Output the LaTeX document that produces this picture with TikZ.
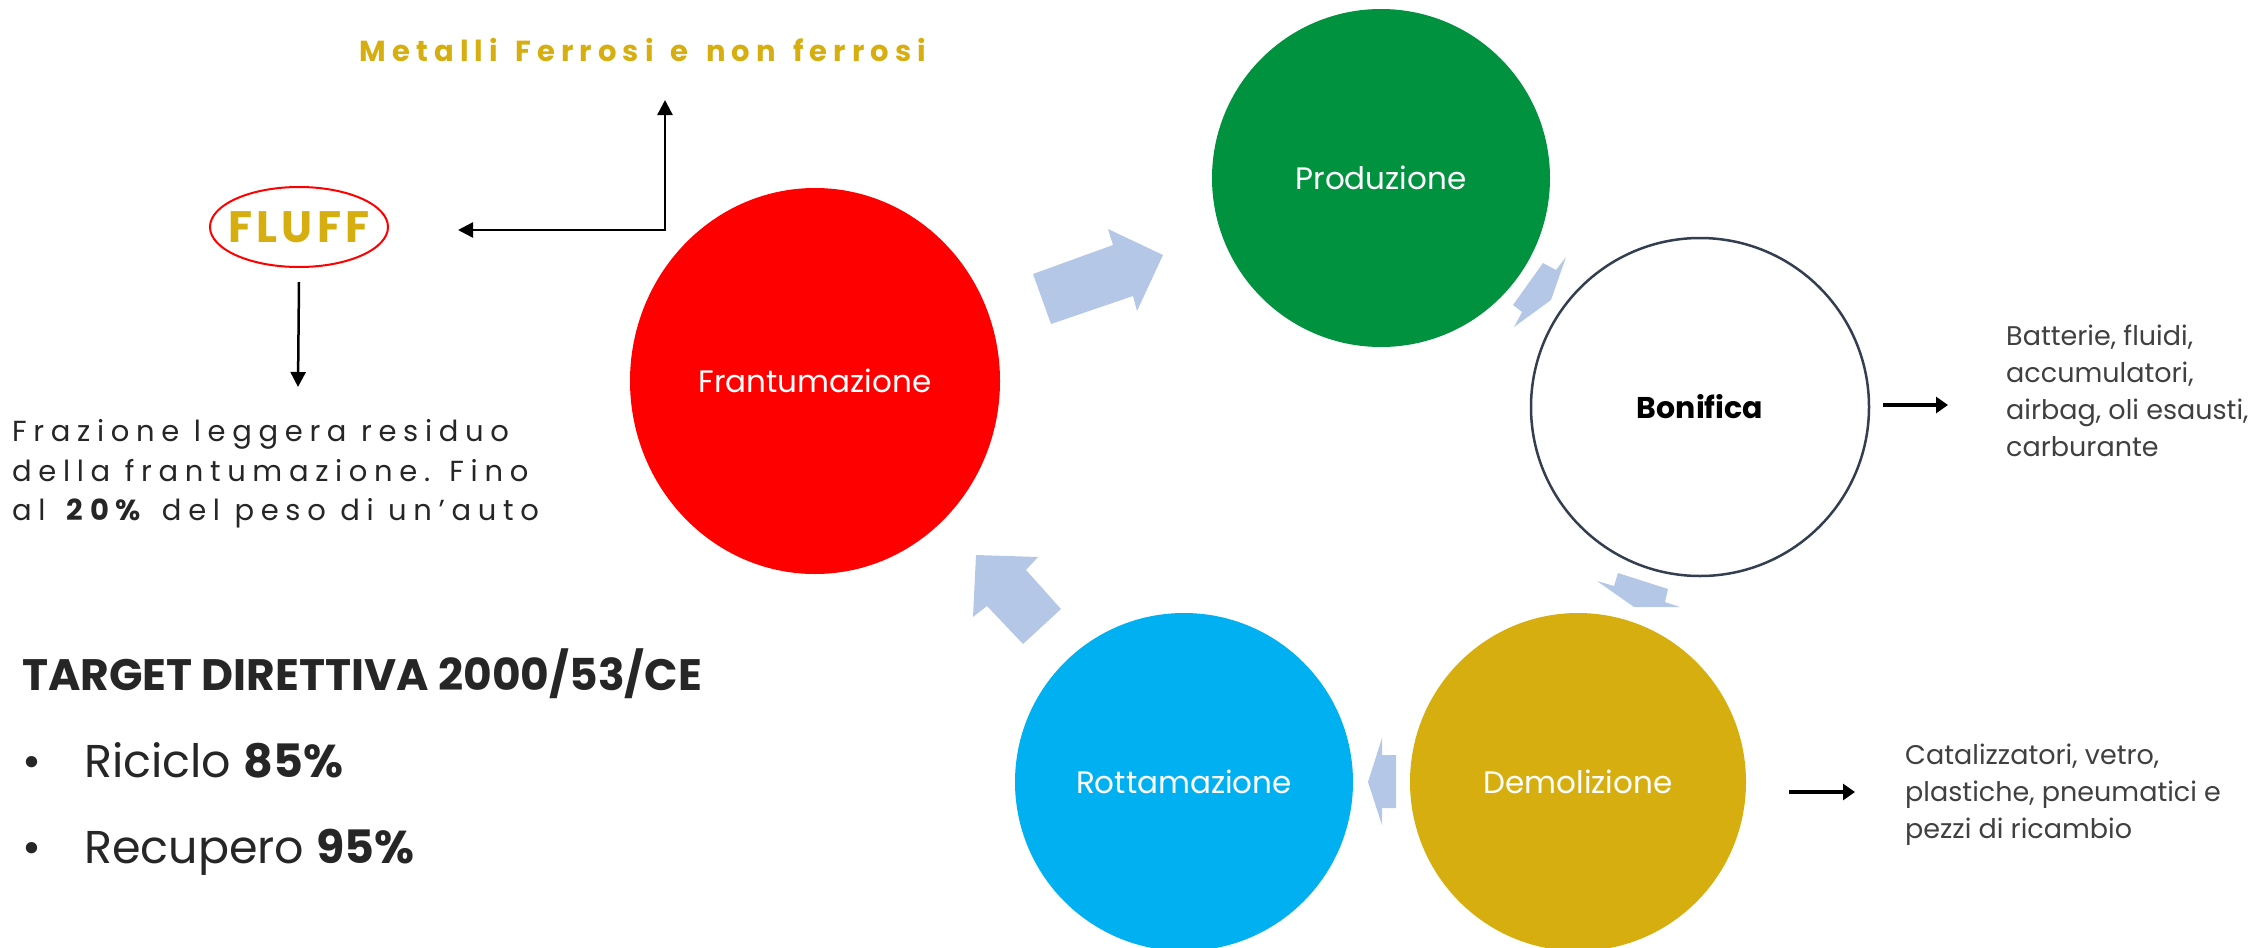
\documentclass[tikz,border=0pt]{standalone}
\usepackage{fontspec}
\setmainfont{Poppins}
\usetikzlibrary{shapes.geometric,arrows.meta}
\definecolor{cred}{HTML}{FF0000}
\definecolor{cgreen}{HTML}{00923F}
\definecolor{cblue}{HTML}{00B0F0}
\definecolor{cgold}{HTML}{D6AE10}
\definecolor{cnavy}{HTML}{333F50}
\definecolor{carrow}{HTML}{B4C7E7}
\definecolor{ctext}{HTML}{262626}
\definecolor{cgray}{HTML}{404040}
\newcommand\myspaceA{\spaceskip=0.6em\relax}
\newcommand\myspaceB{\spaceskip=0.5em\relax}
\begin{document}
\begin{tikzpicture}[x=1pt,y=-1pt,
  stage/.style={ellipse, inner sep=0pt, text=white, font=\fontsize{31}{36}\selectfont},
  blockarrow/.style={fill=carrow, draw=none},
  thinarrow/.style={draw=black, line width=2.5pt, -{Triangle[length=15pt,width=15pt]}},
  sidearrow/.style={draw=black, line width=3.5pt, -{Triangle[length=12pt,width=16pt]}},
  sidetext/.style={anchor=west, align=left, inner sep=0pt, text=cgray, font=\fontsize{27}{37}\selectfont},
  bul/.style={anchor=base west, inner sep=0pt, text=ctext, font=\fontsize{46}{52}\selectfont}
]
\useasboundingbox (0,0) rectangle (2263,948);
% block arrows (behind the circles)
\fill[blockarrow] (1033,274) -- (1113,245) -- (1108,229) -- (1163,255) -- (1137,311) -- (1133,296) -- (1051,324) -- cycle;
\fill[blockarrow] (1543,263) -- (1556,270) -- (1566,257) -- (1551,300) -- (1514,327) -- (1522,312) -- (1513,305) -- cycle;
\fill[blockarrow] (1597,581) -- (1614,586) -- (1618,573) -- (1668,589) -- (1665,602) -- (1680,607) -- (1634,607) -- cycle;
\fill[blockarrow] (1368,782) -- (1382,738) -- (1382,755) -- (1396,755) -- (1396,808) -- (1382,808) -- (1382,825) -- cycle;
\fill[blockarrow] (976,555) -- (1038,557) -- (1026,570) -- (1061,609) -- (1023,644) -- (987,606) -- (973,617) -- cycle;
% stages
\node[stage, fill=cred, minimum width=370pt, minimum height=386pt] (frant) at (815,381) {Frantumazione};
\node[stage, fill=cgreen, minimum width=338pt, minimum height=338pt] (prod) at (1381,178) {Produzione};
\node[stage, fill=white, draw=cnavy, line width=2.5pt, text=black, font=\bfseries\fontsize{30}{36}\selectfont, minimum width=338pt, minimum height=338pt] (bon) at (1700,407) {Bonifica};
\node[stage, fill=cblue, minimum width=338pt, minimum height=338pt] (rott) at (1184,782) {Rottamazione};
\node[stage, fill=cgold, minimum width=336pt, minimum height=338pt] (demo) at (1578,782) {Demolizione};
% metals and fluff
\node[text=cgold, font={\bfseries\fontsize{29}{34}\selectfont\addfontfeature{LetterSpace=21}\myspaceA}] (metal) at (643,50) {Metalli Ferrosi e non ferrosi};
\node[ellipse, draw=cred, line width=2pt, minimum width=178pt, minimum height=80pt, inner sep=0pt, text=cgold, font=\bfseries\fontsize{44}{50}\selectfont\addfontfeature{LetterSpace=10}] (fluff) at (299,227) {\makebox[0pt]{FLUFF}};
\coordinate (corner) at (665,230);
\coordinate (mtip) at (665,100);
\coordinate (ftip) at (458,230);
\draw[thinarrow, {Triangle[length=15pt,width=15pt]}-{Triangle[length=15pt,width=15pt]}] (ftip) -- (corner) -- (mtip);
\node[anchor=west, align=left, inner sep=0pt, text=ctext, font={\fontsize{29}{39.5}\selectfont\addfontfeature{LetterSpace=23}\myspaceB}] (fraz) at (12,474) {Frazione leggera residuo\\della frantumazione. Fino\\al \textbf{20\%} del peso di un’auto};
\coordinate (fraztip) at (298,387);
\draw[thinarrow] ([yshift=-14pt]fluff.south) -- (fraztip);
% side texts
\node[sidetext] (bontext) at (2006,391) {Batterie, fluidi,\\accumulatori,\\airbag, oli esausti,\\carburante};
\node[sidetext] (demotext) at (1905,795) {Catalizzatori, vetro,\\plastiche, pneumatici e\\pezzi di ricambio};
\coordinate (bontip) at (1948,405);
\coordinate (demotip) at (1855,792);
\draw[sidearrow] ([xshift=13pt]bon.east |- bontip) -- (bontip);
\draw[sidearrow] ([xshift=43pt]demo.east |- demotip) -- (demotip);
% target
\node[anchor=base west, inner sep=0pt, text=ctext, font=\bfseries\fontsize{44}{50}\selectfont] (title) at (22,690) {TARGET DIRETTIVA 2000/53/CE};
\node[bul] (ric) at (22,777) {\makebox[62pt][l]{•}Riciclo \textbf{85\%}};
\node[bul] (rec) at (22,863) {\makebox[62pt][l]{•}Recupero \textbf{95\%}};
\end{tikzpicture}
\end{document}
